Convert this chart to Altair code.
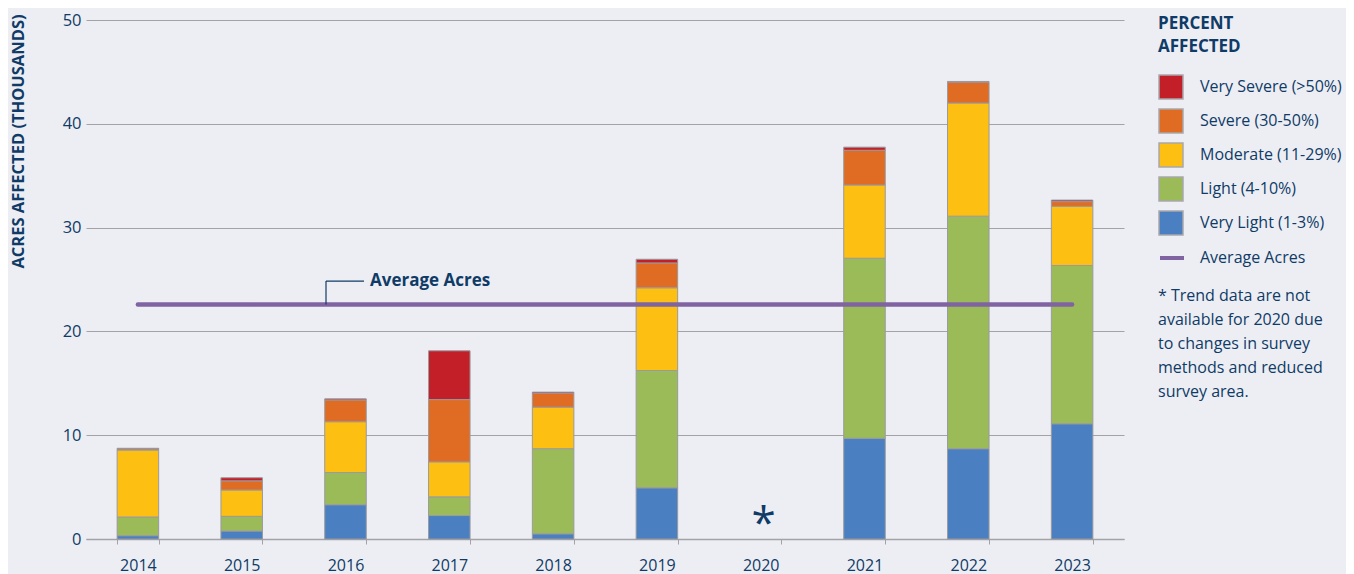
import altair as alt
import pandas as pd

years = ["2014", "2015", "2016", "2017", "2018", "2019", "2020", "2021", "2022", "2023"]
very_light = [0.32, 0.77, 3.3, 2.26, 0.5, 4.93, None, 9.7, 8.7, 11.1]
light = [1.8, 1.41, 3.1, 1.8, 8.2, 11.3, None, 17.35, 22.4, 15.25]
moderate = [6.45, 2.54, 4.9, 3.37, 4.0, 7.97, None, 7.05, 10.9, 5.7]
severe = [0.12, 0.88, 2.1, 6.0, 1.35, 2.4, None, 3.35, 2.0, 0.45]
very_severe = [0.05, 0.3, 0.1, 4.7, 0.1, 0.35, None, 0.3, 0.08, 0.15]
categories = ["Very Severe (>50%)", "Severe (30-50%)", "Moderate (11-29%)", "Light (4-10%)", "Very Light (1-3%)"]
colors = ["#C21F28", "#E06B22", "#FDBF12", "#9BBB59", "#4A7FC1"]
avg_acres = 22.6
note_lines = ["* Trend data are not", "available for 2020 due", "to changes in survey", "methods and reduced", "survey area."]

NAVY = "#0F3B66"
GRID = "#A3A3A6"
BG = "#EDEEF4"
FONT = "Open Sans"

series = {
    "Very Light (1-3%)": very_light,
    "Light (4-10%)": light,
    "Moderate (11-29%)": moderate,
    "Severe (30-50%)": severe,
    "Very Severe (>50%)": very_severe,
}
rows = []
for rank, (cat, vals) in enumerate(series.items()):
    for y, v in zip(years, vals):
        if v is not None:
            rows.append({"year": y, "level": cat, "acres": v, "rank": rank})
df = pd.DataFrame(rows)

x_enc = alt.X(
    "year:N",
    scale=alt.Scale(domain=years, paddingInner=0.6, paddingOuter=0.3),
    axis=alt.Axis(
        title=None, labelAngle=0, labelFontSize=16, labelColor=NAVY, labelFont=FONT,
        tickColor=GRID, tickSize=5, tickBand="extent", domainColor=GRID, domainWidth=1.5,
        labelPadding=13, grid=False,
    ),
)
y_scale = alt.Scale(domain=[0, 50], nice=False)

bars = alt.Chart(df).mark_bar(stroke="#9A9A9E", strokeWidth=1).encode(
    x=x_enc,
    y=alt.Y(
        "sum(acres):Q",
        scale=y_scale,
        axis=alt.Axis(
            title="ACRES AFFECTED (THOUSANDS)", titleFontSize=16.5, titleFontWeight="bold",
            titleColor=NAVY, titleFont=FONT, titleAngle=-90, titleX=-68, titleY=121,
            titleAlign="center", titleBaseline="middle",
            values=[0, 10, 20, 30, 40, 50], grid=True, gridColor=GRID, gridWidth=1.2,
            domain=False, ticks=False, labelFontSize=16.5, labelColor=NAVY, labelFont=FONT,
            labelPadding=5,
        ),
    ),
    color=alt.Color(
        "level:N",
        scale=alt.Scale(domain=categories, range=colors),
        legend=alt.Legend(
            title=["PERCENT", "AFFECTED"], titleFontSize=17, titleFontWeight="bold",
            titleColor=NAVY, titleFont=FONT, titleLineHeight=23, titlePadding=18,
            orient="none", legendX=1072, legendY=-4,
            symbolType="square", symbolSize=576, symbolStrokeColor="#A8A8AC",
            symbolStrokeWidth=1.5, symbolOpacity=1,
            labelFontSize=16, labelColor=NAVY, labelFont=FONT, labelOffset=16,
            rowPadding=4, labelLimit=300, padding=0,
        ),
    ),
    order=alt.Order("rank:Q", sort="ascending"),
)

avg_df = pd.DataFrame({"year": [years[0], years[-1]], "acres": [avg_acres, avg_acres], "s": ["Average Acres"] * 2})
avg_line = alt.Chart(avg_df).mark_line(strokeWidth=4.5, strokeCap="round").encode(
    x=alt.X("year:N", scale=alt.Scale(domain=years)),
    y=alt.Y("acres:Q", scale=y_scale),
    stroke=alt.Stroke(
        "s:N",
        scale=alt.Scale(domain=["Average Acres"], range=["#8064A2"]),
        legend=alt.Legend(
            title=None, orient="none", legendX=1072, legendY=224,
            symbolType="stroke", symbolSize=576, symbolStrokeWidth=4,
            labelFontSize=16, labelColor=NAVY, labelFont=FONT, labelOffset=14, padding=0,
        ),
    ),
)

ann_y = 24.85
lead_v = alt.Chart(pd.DataFrame({"a": [0]})).mark_rule(color=NAVY, strokeWidth=1.2).encode(
    x=alt.value(240), y=alt.datum(avg_acres, scale=y_scale), y2=alt.datum(ann_y)
)
lead_h = alt.Chart(pd.DataFrame({"a": [0]})).mark_rule(color=NAVY, strokeWidth=1.2).encode(
    x=alt.value(240), x2=alt.value(278), y=alt.datum(ann_y, scale=y_scale)
)
ann_text = alt.Chart(pd.DataFrame({"t": ["Average Acres"]})).mark_text(
    align="left", baseline="middle", fontSize=17, fontWeight="bold", color=NAVY, font=FONT
).encode(x=alt.value(284), y=alt.datum(ann_y, scale=y_scale), text="t:N")

star = alt.Chart(pd.DataFrame({"year": ["2020"], "t": ["*"]})).mark_text(
    align="center", baseline="middle", fontSize=44, color=NAVY, font=FONT, dx=3, dy=-6
).encode(x=alt.X("year:N", scale=alt.Scale(domain=years)), y=alt.datum(0.8, scale=y_scale), text="t:N")

note = alt.Chart(pd.DataFrame({"t": [note_lines]})).mark_text(
    align="left", baseline="top", fontSize=16, color=NAVY, font=FONT, lineHeight=24
).encode(x=alt.value(1072), y=alt.value(268), text="t")

chart = alt.layer(bars, avg_line, lead_v, lead_h, ann_text, star, note).properties(
    width=1038, height=519,
    autosize=alt.AutoSizeParams(type="none"),
    padding={"left": 78, "top": 12, "right": 222, "bottom": 37},
    background=BG,
).configure_view(stroke=None)

chart.save("out.html", embed_options={"renderer": "svg", "actions": False})
